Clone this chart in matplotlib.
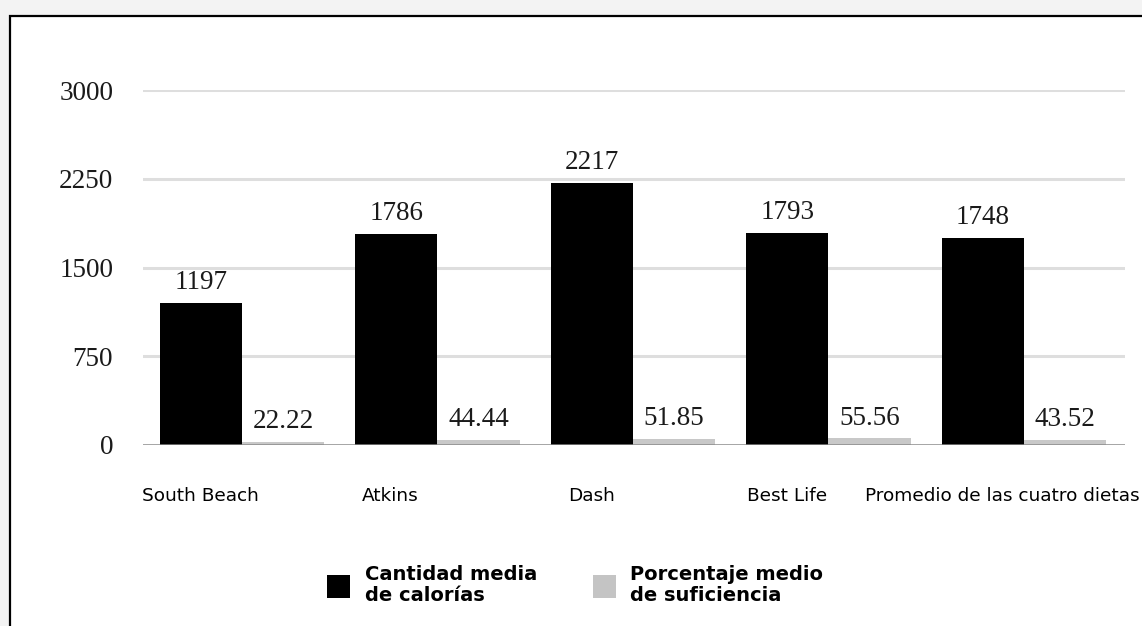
import matplotlib
matplotlib.use("Agg")
import matplotlib.pyplot as plt
import numpy as np
from matplotlib.patches import Rectangle, Patch

categories = ["South Beach", "Atkins", "Dash", "Best Life", "Promedio de las cuatro dietas"]
calorias = [1197, 1786, 2217, 1793, 1748]
suficiencia = [22.22, 44.44, 51.85, 55.56, 43.52]
yticks = [0, 750, 1500, 2250, 3000]
series_names = ["Cantidad media\nde calorías", "Porcentaje medio\nde suficiencia"]

W, H = 1142, 626
fig = plt.figure(figsize=(W / 100, H / 100), dpi=100)
fig.patch.set_facecolor("#f3f3f3")

# white panel with black frame (left/top visible)
panel = Rectangle((10 / W, -0.1), 1.2, 1.1 - 16 / H, transform=fig.transFigure,
                  facecolor="white", edgecolor="black", linewidth=1.6, zorder=-5)
fig.patches.append(panel)

ax = fig.add_axes([143 / W, (H - 445) / H, 982 / W, 355 / H])
ax.set_zorder(1)
ax.set_facecolor("none")

x = np.arange(len(categories))
bw = 0.42
b1 = ax.bar(x - bw / 2, calorias, width=bw, color="black", zorder=3, label=series_names[0])
b2 = ax.bar(x + bw / 2, suficiencia, width=bw, color="#c8c8c8", zorder=3, label=series_names[1])

ax.set_xlim(-0.506, 4.517)
ax.set_ylim(0, 3000)
ax.set_yticks(yticks)
ax.set_yticklabels([str(v) for v in yticks], family="Liberation Serif", fontsize=19.5, color="#1a1a1a")
ax.tick_params(axis="y", length=0, pad=21.5)
ax.set_xticks([])
for s in ax.spines.values():
    s.set_visible(False)

for v in yticks[1:]:
    ax.axhline(v, xmin=0.001, xmax=0.998, color="#dedede", lw=2.2, zorder=1)
ax.axhline(0, color="#8a8a8a", lw=1.8, zorder=4)

for rect, v in zip(b1, calorias):
    ax.annotate(str(v), (rect.get_x() + rect.get_width() / 2, v), xytext=(0, 10),
                textcoords="offset points", ha="center", va="baseline",
                family="Liberation Serif", fontsize=19.5, color="#1a1a1a")
for rect, v in zip(b2, suficiencia):
    ax.annotate(f"{v:.2f}", (rect.get_x() + rect.get_width() / 2, v), xytext=(0, 10),
                textcoords="offset points", ha="center", va="baseline",
                family="Liberation Serif", fontsize=19.5, color="#1a1a1a")

# category labels (positions relative to group centres)
label_offsets = [-0.21, -0.24, -0.21, -0.21, -0.815]
label_ha = ["center", "center", "center", "center", "left"]
for xi, name, off, ha in zip(x, categories, label_offsets, label_ha):
    ax.text(xi + off, -430, name, ha=ha, va="center", fontsize=13.3,
            family="DejaVu Sans", color="black", clip_on=False)

handles = [Patch(facecolor="black"), Patch(facecolor="#c4c4c4")]
leg = fig.legend(handles, series_names, loc="center left",
                 bbox_to_anchor=(327 / W, 1 - 585 / H), ncol=2, frameon=False,
                 prop={"family": "DejaVu Sans", "weight": "bold", "size": 14},
                 handlelength=1.2, handleheight=1.45, handletextpad=0.75,
                 columnspacing=2.85, borderpad=0, borderaxespad=0)
for t in leg.get_texts():
    t.set_linespacing(1.1)

fig.savefig("out.png", dpi=100, facecolor=fig.get_facecolor())
